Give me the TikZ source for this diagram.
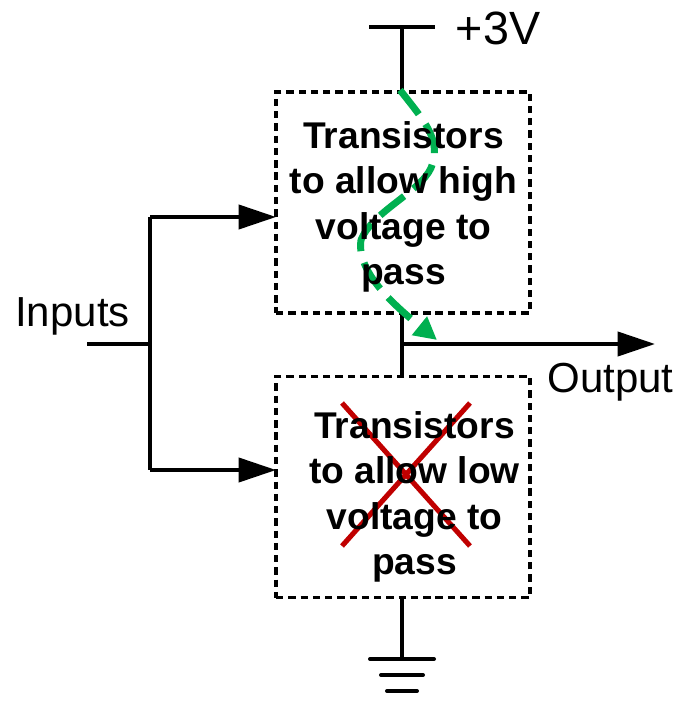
\documentclass[tikz,border=0pt]{standalone}
\usepackage{fontspec}
\setmainfont{Liberation Sans}
\usetikzlibrary{arrows.meta}
\tikzset{
 wire/.style={line width=3pt,draw=black},
 arrowwire/.style={wire,-{Triangle[length=28pt,width=18pt]}},
 dbox/.style={draw=black,line width=2.7pt,dash pattern=on 5.5pt off 3.7pt,minimum width=190.5pt,minimum height=165.8pt,inner sep=0pt},
 boxtext/.style={align=center,font=\fontsize{27.9}{34}\selectfont\bfseries},
 lbl/.style={font=\fontsize{31.5}{36}\selectfont,inner sep=0pt},
 crossline/.style={draw={rgb,255:red,192;green,0;blue,0},line width=3.8pt},
}
\begin{document}
\begin{tikzpicture}[x=0.75pt,y=-0.75pt]
\useasboundingbox (0,0) rectangle (677,702);
\node[dbox] (hi) at (403,202.5) {};
\node[dbox] (lo) at (403,487) {};
\coordinate (vddL) at (369,27); \coordinate (vddR) at (435,27); \coordinate (vdd) at (402,27);
\coordinate (hib) at (402,313); \coordinate (hitop) at (402,92);
\coordinate (lotop) at (402,377); \coordinate (lob) at (402,597);
\coordinate (out) at (402,344); \coordinate (outE) at (655,344);
\coordinate (inS) at (87,344); \coordinate (inJ) at (150,344);
\coordinate (inT) at (150,217); \coordinate (inB) at (150,470);
\coordinate (inTE) at (276,217); \coordinate (inBE) at (276,470);
\coordinate (g) at (402,659);
\draw[wire] (vddL)--(vddR);
\draw[wire] (vdd)--(hitop);
\draw[wire] (hib)--(lotop);
\draw[arrowwire] (out)--(outE);
\draw[wire] (inS)--(inJ);
\draw[arrowwire] (inT)--(inTE);
\draw[arrowwire] (inB)--(inBE);
\draw[wire] (inT)--(inB);
\draw[wire] (lob)--(g);
\draw[wire,line cap=round] (370,659)--(434,659);
\draw[wire,line cap=round] (381,675)--(423,675);
\draw[wire,line cap=round] (387,691)--(417,691);
\draw[draw={rgb,255:red,0;green,176;blue,80},line width=5.2pt,dash pattern=on 23pt off 9pt,-{Triangle[length=17pt,width=17pt]}]
 (400,90) .. controls (425,122) and (442,140) .. (431,168)
 .. controls (420,192) and (372,212) .. (361,240)
 .. controls (356,272) and (395,306) .. (437,340);
\draw[crossline] (342,403)--(470,546);
\draw[crossline] (470,403)--(342,546);
\node[boxtext] (hitext) at (403.5,207) {Transistors\\to allow high\\voltage to\\pass};
\node[boxtext] (lotext) at (414.5,497) {Transistors\\to allow low\\voltage to\\pass};
\node[lbl,font=\fontsize{35}{40}\selectfont] (v) at (498,28) {+3V};
\node[lbl] (inp) at (72.5,316) {Inputs};
\node[lbl] (op) at (610.5,382) {Output};
\end{tikzpicture}
\end{document}
